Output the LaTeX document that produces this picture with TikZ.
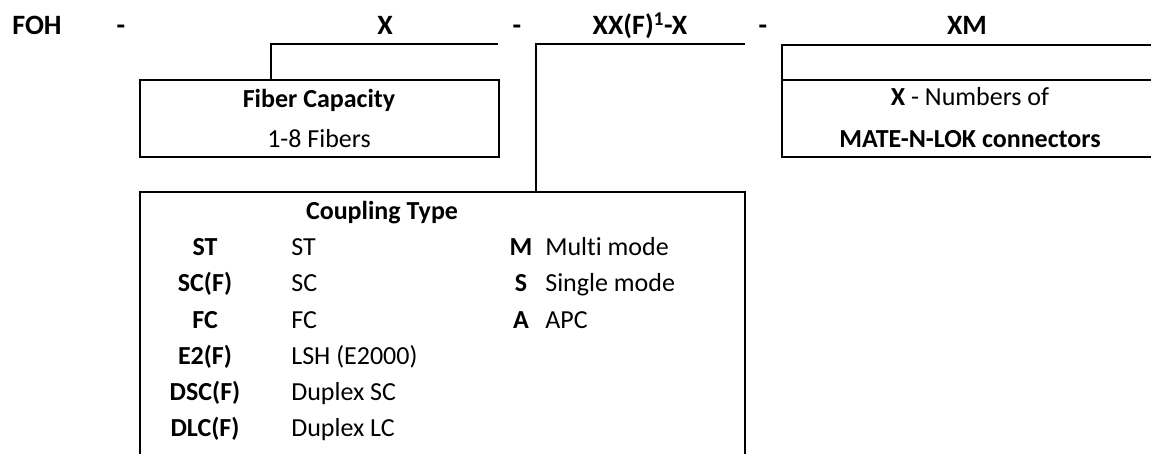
\documentclass[tikz,border=0pt]{standalone}
\usepackage{fontspec}
\setmainfont[RawFeature=-liga]{Carlito}
\usetikzlibrary{calc}
\tikzset{box/.style={draw, inner sep=0pt},
  head/.style={anchor=base, font=\fontsize{28}{34}\selectfont\bfseries},
  txt/.style={anchor=base, font=\fontsize{26}{31}\selectfont},
  key/.style={anchor=base, font=\fontsize{26}{31}\selectfont\bfseries}}

\begin{document}
\begin{tikzpicture}[x=1pt, y=-1pt, line width=2pt]
    \clip (0,0) rectangle (1151,454);
    % code line
    \node[head] (foh) at (37,35) {FOH};
    \node[head] (dash1) at (121,35) {-};
    \node[head] (capcode) at (385,35) {X};
    \node[head] (dash2) at (517,35) {-};
    \node[head] (coupcode) at (640,35) {XX(F)\textsuperscript{1}-X};
    \node[head] (dash3) at (763,35) {-};
    \node[head] (matecode) at (967,35) {XM};
    % boxes
    \node[box, minimum width=359pt, minimum height=77pt] (fibre) at (319.5,118.5) {};
    \node[box, minimum width=605pt, minimum height=288pt] (coup) at (442.5,336) {};
    \node[box, minimum width=398pt, minimum height=112pt] (mate) at (981,101) {};
    \coordinate (split) at (0,80);
    \draw (mate.west |- split) -- (mate.east |- split);
    % leaders
    \coordinate (capend) at (498,44);
    \coordinate (coupend) at (745,44);
    \draw (fibre.north west) ++(132,0) |- (capend);
    \draw (coup.north west) ++(397,0) |- (coupend);
    % box texts
    \node[key] (fibtitle) at (319,108) {Fiber Capacity};
    \node[txt] (fibtext) at (319,148) {1-8 Fibers};
    \node[txt] (matetext) at (970,106) {\textbf{X} - Numbers of};
    \node[key] (matetitle) at (970,148) {MATE-N-LOK connectors};
    \node[key] (couptitle) at (382,220) {Coupling Type};
    \foreach \k/\v [count=\i from 0] in {ST/ST, SC(F)/SC, FC/FC,
        E2(F)/LSH (E2000), DSC(F)/Duplex SC, DLC(F)/Duplex LC}
    {
      \node[key] (key\i) at (205,256+36*\i) {\k};
      \node[txt, anchor=base west] (val\i) at (287,256+36*\i) {\v};
    }
    \foreach \k/\v [count=\i from 0] in {M/Multi mode, S/Single mode, A/APC}
    {
      \node[key] (mode\i) at (521,256+36*\i) {\k};
      \node[txt, anchor=base west] (modeval\i) at (541,256+36*\i) {\v};
    }
  \end{tikzpicture}
\end{document}
